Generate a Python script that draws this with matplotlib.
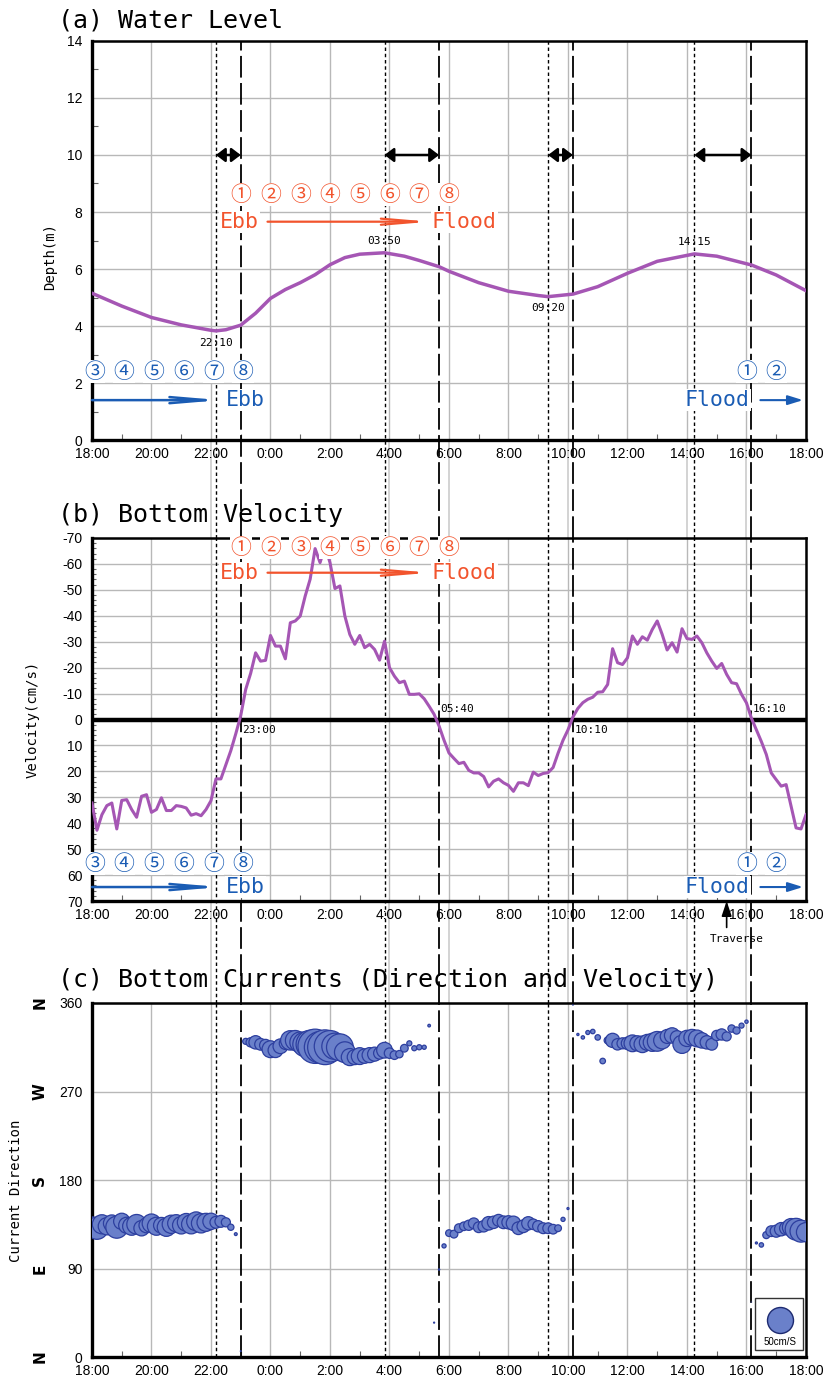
import matplotlib
matplotlib.use("Agg")
import matplotlib.pyplot as plt
from matplotlib.patches import Rectangle
from matplotlib.ticker import MultipleLocator, FixedLocator
import matplotlib.transforms as mtransforms
import numpy as np

plt.rcParams["axes.unicode_minus"] = False

# ---- data (hours counted from 18:00 of day 1) ----
X_TICK_LABELS = ["18:00", "20:00", "22:00", "0:00", "2:00", "4:00", "6:00",
                 "8:00", "10:00", "12:00", "14:00", "16:00", "18:00"]

LEVEL_HOURS = [0, 1, 2, 3, 4, 4.17, 4.5, 5, 5.5, 6, 6.5, 7, 7.5, 8, 8.5, 9,
               9.83, 10.5, 11, 11.67, 12, 13, 14, 15, 15.33, 16.17, 17, 18,
               19, 20.25, 21, 22.17, 23, 24]
LEVEL_DEPTH = [5.15, 4.70, 4.30, 4.04, 3.85, 3.83, 3.87, 4.03, 4.45, 4.97,
               5.28, 5.52, 5.80, 6.15, 6.40, 6.52, 6.57, 6.45, 6.30, 6.08,
               5.92, 5.52, 5.22, 5.07, 5.03, 5.12, 5.38, 5.85, 6.27, 6.53,
               6.45, 6.14, 5.79, 5.24]

SAMPLE_MINUTES = 10  # current meter interval
VELOCITY = [
    32.2, 42.7, 36.7, 33.2, 32.2, 42.2, 31.2, 30.9, 34.7, 37.7,
    29.6, 29.0, 35.8, 34.7, 30.2, 35.1, 35.1, 33.2, 33.5, 34.1,
    36.9, 36.3, 37.1, 34.7, 31.3, 22.9, 22.9, 17.5, 12.0, 5.5,
    -1.5, -11.6, -17.8, -25.7, -22.5, -22.8, -32.4, -28.3, -28.3, -23.4,
    -37.3, -38.0, -39.9, -47.6, -54.1, -65.9, -60.5, -66.9, -60.5, -50.5,
    -51.5, -39.9, -32.8, -29.0, -32.4, -27.7, -29.0, -27.0, -22.9, -30.2,
    -20.0, -16.7, -14.2, -14.8, -9.7, -9.7, -9.9, -8.0, -5.1, -2.0,
    2.5, 8.0, 12.9, 15.0, 17.0, 16.5, 19.6, 20.6, 20.6, 22.0,
    26.0, 23.8, 22.9, 24.4, 25.4, 27.7, 24.4, 24.4, 25.5, 20.3,
    21.6, 20.8, 20.5, 18.5, 13.0, 8.0, 4.0, -1.0, -4.3, -6.5,
    -7.8, -8.6, -10.5, -10.7, -13.5, -27.3, -21.9, -21.2, -23.8, -32.2,
    -29.0, -31.9, -30.6, -34.7, -38.0, -32.8, -26.8, -29.6, -26.0, -35.0,
    -31.2, -30.9, -32.2, -29.6, -25.7, -22.5, -19.7, -21.6, -17.4, -14.2,
    -13.8, -9.7, -6.4, -0.5, 4.0, 8.5, 13.5, 20.6, 23.2, 25.7,
    25.1, 33.5, 41.8, 42.2, 36.7,
]
DIRECTION = [
    134, 131, 135, 133, 136, 132, 138, 134, 133, 135,
    131, 134, 136, 133, 134, 132, 135, 136, 134, 137,
    135, 138, 136, 137, 138, 137, 138, 137, 132, 125,
    6, 321, 320, 320, 318, 317, 313, 312, 316, 319,
    322, 322, 320, 318, 318, 316, 315, 315, 316, 316,
    315, 310, 305, 305, 306, 306, 307, 308, 309, 312,
    309, 307, 308, 314, 319, 314, 315, 315, 337, 35,
    89, 113, 126, 125, 131, 133, 134, 136, 132, 133,
    136, 137, 139, 137, 137, 136, 131, 133, 136, 135,
    133, 131, 131, 130, 131, 140, 151, 358, 328, 325,
    330, 331, 325, 301, 322, 322, 318, 319, 319, 319,
    319, 318, 320, 320, 321, 322, 326, 327, 325, 318,
    324, 325, 324, 322, 320, 318, 327, 328, 326, 334,
    332, 337, 341, 56, 116, 114, 124, 128, 128, 130,
    131, 132, 130, 128, 127,
]

HW_LW_TIMES = ["22:10", "03:50", "09:20", "14:15"]   # low / high water
SLACK_TIMES = ["23:00", "05:40", "10:10", "16:10"]   # velocity zero crossing
TRAVERSE_TIME = "15:20"
LEGEND_SPEED = 50
DIR_TICKS = [0, 90, 180, 270, 360]
DIR_NAMES = ["N", "E", "S", "W", "N"]

PURPLE = "#A556B4"
RED = "#F2542D"
BLUE = "#1A5CB4"
BUBBLE_FACE = "#6A80CA"
BUBBLE_EDGE = "#2D3F9F"
GRID = "#b8b8b8"
MONO = "DejaVu Sans Mono"
SANS = "Liberation Sans"
CIRC = ["Noto Sans CJK JP", "DejaVu Sans"]
CIRCLED = ["①", "②", "③", "④", "⑤", "⑥", "⑦", "⑧"]


def to_hours(hhmm):
    h, m = (int(p) for p in hhmm.split(":"))
    return (h - 18) % 24 + m / 60.0


hw_lw = [to_hours(t) for t in HW_LW_TIMES]
slack = [to_hours(t) for t in SLACK_TIMES]
vel_hours = np.arange(len(VELOCITY)) * SAMPLE_MINUTES / 60.0

fig = plt.figure(figsize=(8.28, 13.89), dpi=100)
ax_a = fig.add_axes([0.1111, 0.6832, 0.8623, 0.2873])
ax_b = fig.add_axes([0.1111, 0.3513, 0.8623, 0.2614])
ax_c = fig.add_axes([0.1111, 0.0230, 0.8623, 0.2549])


def style_axes(ax):
    ax.set_xlim(0, 24)
    ax.set_xticks(np.arange(0, 25, 2))
    ax.set_xticklabels(X_TICK_LABELS, fontsize=10, family=SANS)
    ax.xaxis.set_minor_locator(MultipleLocator(1))
    ax.grid(True, which="major", color=GRID, lw=1.0)
    ax.set_axisbelow(True)
    ax.tick_params(which="major", length=0, pad=5, labelsize=10)
    ax.tick_params(axis="y", which="major", pad=7)
    ax.tick_params(which="minor", direction="in", length=4, width=0.8,
                   color="#666666")
    for name, sp in ax.spines.items():
        sp.set_linewidth(2.4 if name in ("left", "bottom") else 1.8)


def set_ytick_font(ax):
    for lab in ax.get_yticklabels():
        lab.set_family(SANS)


def event_lines(ax, lower_ax):
    # extend down to the top of the next panel
    if lower_ax is not None:
        b0 = ax.get_position()
        b1 = lower_ax.get_position()
        ymin = (b1.y1 - b0.y0) / b0.height
    else:
        ymin = 0
    for t in hw_lw:
        ax.axvline(t, ymin=ymin, ymax=1, color="black", lw=1.0,
                   ls=(0, (2.5, 2.0)), clip_on=False, zorder=3)
    for t in slack:
        ax.axvline(t, ymin=ymin, ymax=1, color="black", lw=1.3,
                   ls=(0, (12, 3)), clip_on=False, zorder=3)
    if lower_ax is not None:
        for t in [hw_lw[0], hw_lw[1], slack[1], slack[2], hw_lw[3], slack[3]]:
            ax.axvline(round(t / 2) * 2, ymin=ymin, ymax=0, color="#cccccc",
                       lw=1.2, clip_on=False, zorder=0.5)


def circled(ax, xs, y, labels, color):
    for x, lab in zip(xs, labels):
        ax.text(x, y, lab, color=color, fontsize=15, family=CIRC,
                ha="center", va="center", zorder=6,
                bbox=dict(boxstyle="square,pad=0.02", fc="white", ec="none"))


def flow_arrow(ax, x0, x1, y, color, style, lw=1.6):
    ax.annotate("", xy=(x1, y), xytext=(x0, y),
                arrowprops=dict(arrowstyle=style, color=color, lw=lw,
                                shrinkA=0, shrinkB=0),
                annotation_clip=False, zorder=7)


def word(ax, x, y, s, color, ha="left"):
    ax.text(x, y, s, color=color, fontsize=15.5, family=MONO, ha=ha,
            va="center", zorder=6,
            bbox=dict(boxstyle="square,pad=0.05", fc="white", ec="none"))


LONG_HEAD = "->,head_length=2.6,head_width=0.22"
SHORT_HEAD = "-|>,head_length=0.9,head_width=0.28"


def tide_annotations(ax, red_num_y, red_y, blue_num_y, blue_y):
    red_x = slack[0] + np.arange(8)
    circled(ax, red_x, red_num_y, CIRCLED, RED)
    word(ax, slack[0] - 0.7, red_y, "Ebb", RED)
    flow_arrow(ax, slack[0] + 0.9, slack[1] - 0.3, red_y, RED, LONG_HEAD, lw=1.6)
    word(ax, slack[1] - 0.25, red_y, "Flood", RED)

    blue_x = np.arange(6) + 0.08
    circled(ax, blue_x, blue_num_y, CIRCLED[2:], BLUE)
    flow_arrow(ax, 0, hw_lw[0] + 0.15, blue_y, BLUE, LONG_HEAD, lw=1.8)
    word(ax, hw_lw[0] + 0.35, blue_y, "Ebb", BLUE)
    circled(ax, [22.02, 23.0], blue_num_y, CIRCLED[:2], BLUE)
    word(ax, slack[3] - 0.05, blue_y, "Flood", BLUE, ha="right")
    flow_arrow(ax, slack[3] + 0.3, 23.9, blue_y, BLUE, SHORT_HEAD, lw=1.5)


# ---------------- (a) water level ----------------
style_axes(ax_a)
ax_a.set_ylim(0, 14)
ax_a.yaxis.set_major_locator(MultipleLocator(2))
ax_a.yaxis.set_minor_locator(MultipleLocator(1))
set_ytick_font(ax_a)
ax_a.plot(LEVEL_HOURS, LEVEL_DEPTH, color=PURPLE, lw=2.5, zorder=4)
event_lines(ax_a, ax_b)

for a_t, b_t in zip(hw_lw, slack):
    ax_a.annotate("", xy=(b_t, 10), xytext=(a_t, 10),
                  arrowprops=dict(arrowstyle="<|-|>,head_length=0.55,head_width=0.42",
                                  color="black", lw=1.8, shrinkA=0, shrinkB=0),
                  zorder=5)

for i, t in enumerate(hw_lw):
    level = np.interp(t, LEVEL_HOURS, LEVEL_DEPTH)
    dy = -8.5 if i % 2 == 0 else 8.5
    ax_a.annotate(HW_LW_TIMES[i], xy=(t, level), xytext=(0, dy),
                  textcoords="offset points", ha="center", va="center",
                  fontsize=8, family=MONO, zorder=6)

tide_annotations(ax_a, 8.6, 7.66, 2.4, 1.4)
ax_a.set_ylabel("Depth(m)", fontsize=10, family=MONO)
ax_a.yaxis.set_label_coords(-0.049, 0.46)

# ---------------- (b) bottom velocity ----------------
style_axes(ax_b)
ax_b.set_ylim(70, -70)
ax_b.yaxis.set_major_locator(MultipleLocator(10))
ax_b.yaxis.set_minor_locator(MultipleLocator(2))
ax_b.tick_params(axis="y", which="minor", length=3)
set_ytick_font(ax_b)
ax_b.axhline(0, color="black", lw=3.2, zorder=3.5)
ax_b.plot(vel_hours, VELOCITY, color=PURPLE, lw=2.2, zorder=4)
event_lines(ax_b, ax_c)

for i, t in enumerate(slack):
    dy = -7.5 if i % 2 == 0 else 7.5
    ax_b.annotate(SLACK_TIMES[i], xy=(t, 0), xytext=(1, dy),
                  textcoords="offset points", ha="left", va="center",
                  fontsize=8, family=MONO, zorder=6)

tide_annotations(ax_b, -66.2, -56.6, 55.6, 64.6)
ax_b.set_ylabel("Velocity(cm/s)", fontsize=10, family=MONO)
ax_b.yaxis.set_label_coords(-0.074, 0.5)

trav = to_hours(TRAVERSE_TIME)
ax_b.annotate("", xy=(trav, 70), xytext=(0, -19), textcoords="offset points",
              arrowprops=dict(arrowstyle="-|>,head_length=0.9,head_width=0.3",
                              color="black", lw=1.2, shrinkA=0, shrinkB=0),
              annotation_clip=False)
ax_b.annotate("Traverse", xy=(trav, 70), xytext=(7, -27),
              textcoords="offset points", ha="center", va="center",
              fontsize=8, family=MONO, annotation_clip=False)

# ---------------- (c) bottom currents ----------------
style_axes(ax_c)
ax_c.set_ylim(0, 360)
ax_c.yaxis.set_major_locator(FixedLocator(DIR_TICKS))
set_ytick_font(ax_c)
event_lines(ax_c, None)


def bubble_area(speed):
    diameter_px = np.abs(np.asarray(speed, dtype=float)) * 26.0 / 50.0
    return (diameter_px * 72.0 / fig.dpi) ** 2


ax_c.scatter(vel_hours, DIRECTION, s=bubble_area(VELOCITY), c=BUBBLE_FACE,
             edgecolors=BUBBLE_EDGE, linewidths=0.9, zorder=4)

trans = mtransforms.blended_transform_factory(ax_c.transAxes, ax_c.transData)
for d, name in zip(DIR_TICKS, DIR_NAMES):
    ax_c.text(-0.073, d, name, transform=trans, rotation=90, ha="center",
              va="center", fontsize=11, fontweight="bold", family="DejaVu Sans")
ax_c.set_ylabel("Current Direction", fontsize=10, family=MONO)
ax_c.yaxis.set_label_coords(-0.097, 0.47)

ax_c.add_patch(Rectangle((0.9286, 0.02), 0.0672, 0.147, transform=ax_c.transAxes,
                         fc="white", ec="#333333", lw=1.0, zorder=7))
ax_c.scatter([0.9636], [0.1045], s=bubble_area(LEGEND_SPEED), c=BUBBLE_FACE,
             edgecolors="#1d2a70", linewidths=1.0, transform=ax_c.transAxes,
             zorder=8, clip_on=False)
ax_c.text(0.9636, 0.043, f"{LEGEND_SPEED}cm/S", transform=ax_c.transAxes,
          ha="center", va="center", fontsize=7, family=SANS, zorder=8)

# ---------------- titles ----------------
fig.text(0.070, 0.9856, "(a) Water Level", fontsize=18, family=MONO,
         ha="left", va="center")
fig.text(0.070, 0.6292, "(b) Bottom Velocity", fontsize=18, family=MONO,
         ha="left", va="center")
fig.text(0.070, 0.2945, "(c) Bottom Currents (Direction and Velocity)",
         fontsize=18, family=MONO, ha="left", va="center")

fig.savefig("out.png", dpi=100)
